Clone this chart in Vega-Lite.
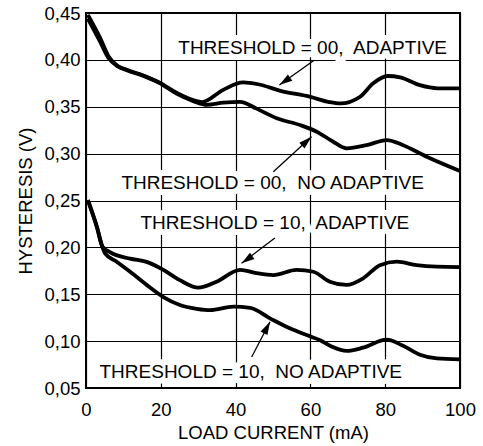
{
  "$schema": "https://vega.github.io/schema/vega-lite/v6.json",
  "width": 374,
  "height": 375,
  "autosize": {"type": "none"},
  "padding": {"left": 86, "top": 13, "right": 23, "bottom": 58},
  "background": "white",
  "config": {
    "view": {"stroke": "#000", "strokeWidth": 2},
    "axis": {
      "labelFont": "Liberation Sans",
      "labelFontSize": 18.5,
      "labelColor": "#000",
      "labelFlush": false,
      "labelOverlap": false,
      "titleFont": "Liberation Sans",
      "titleFontSize": 18.5,
      "titleFontWeight": "normal",
      "titleColor": "#000",
      "grid": true,
      "gridColor": "#000",
      "gridWidth": 1.2,
      "gridOpacity": 1,
      "domain": false,
      "ticks": false
    }
  },
  "datasets": {
    "curves": [
      {"series": "00A", "x": 0.5, "y": 0.448},
      {"series": "00A", "x": 3.7, "y": 0.424},
      {"series": "00A", "x": 6, "y": 0.404},
      {"series": "00A", "x": 8.5, "y": 0.3935},
      {"series": "00A", "x": 10.9, "y": 0.3895},
      {"series": "00A", "x": 16.2, "y": 0.382},
      {"series": "00A", "x": 19.8, "y": 0.3755},
      {"series": "00A", "x": 24.2, "y": 0.365},
      {"series": "00A", "x": 28.7, "y": 0.357},
      {"series": "00A", "x": 31, "y": 0.355},
      {"series": "00A", "x": 36.7, "y": 0.368},
      {"series": "00A", "x": 42, "y": 0.376},
      {"series": "00A", "x": 46, "y": 0.374},
      {"series": "00A", "x": 52, "y": 0.367},
      {"series": "00A", "x": 60, "y": 0.3605},
      {"series": "00A", "x": 65, "y": 0.355},
      {"series": "00A", "x": 68, "y": 0.3535},
      {"series": "00A", "x": 73.3, "y": 0.3607},
      {"series": "00A", "x": 76.8, "y": 0.375},
      {"series": "00A", "x": 80.6, "y": 0.3828},
      {"series": "00A", "x": 84, "y": 0.3814},
      {"series": "00A", "x": 89.3, "y": 0.373},
      {"series": "00A", "x": 94, "y": 0.3697},
      {"series": "00A", "x": 100, "y": 0.3697},
      {"series": "00N", "x": 0.5, "y": 0.444},
      {"series": "00N", "x": 3.7, "y": 0.42},
      {"series": "00N", "x": 6, "y": 0.402},
      {"series": "00N", "x": 8.5, "y": 0.393},
      {"series": "00N", "x": 10.9, "y": 0.389},
      {"series": "00N", "x": 16.2, "y": 0.3815},
      {"series": "00N", "x": 19.8, "y": 0.375},
      {"series": "00N", "x": 24.2, "y": 0.364},
      {"series": "00N", "x": 28.7, "y": 0.356},
      {"series": "00N", "x": 32.3, "y": 0.352},
      {"series": "00N", "x": 36.7, "y": 0.3543},
      {"series": "00N", "x": 41.2, "y": 0.3553},
      {"series": "00N", "x": 45.6, "y": 0.348},
      {"series": "00N", "x": 51, "y": 0.3377},
      {"series": "00N", "x": 57.2, "y": 0.3305},
      {"series": "00N", "x": 61.7, "y": 0.3234},
      {"series": "00N", "x": 66.1, "y": 0.3127},
      {"series": "00N", "x": 69.7, "y": 0.3057},
      {"series": "00N", "x": 75, "y": 0.309},
      {"series": "00N", "x": 80.4, "y": 0.3145},
      {"series": "00N", "x": 84.8, "y": 0.309},
      {"series": "00N", "x": 91.1, "y": 0.2967},
      {"series": "00N", "x": 100, "y": 0.2815},
      {"series": "10A", "x": 0.5, "y": 0.2505},
      {"series": "10A", "x": 2.9, "y": 0.222},
      {"series": "10A", "x": 4.4, "y": 0.201},
      {"series": "10A", "x": 6.4, "y": 0.195},
      {"series": "10A", "x": 11.8, "y": 0.188},
      {"series": "10A", "x": 16.2, "y": 0.1845},
      {"series": "10A", "x": 20.7, "y": 0.176},
      {"series": "10A", "x": 25.1, "y": 0.165},
      {"series": "10A", "x": 30, "y": 0.157},
      {"series": "10A", "x": 34.9, "y": 0.1634},
      {"series": "10A", "x": 41.2, "y": 0.176},
      {"series": "10A", "x": 45.6, "y": 0.1725},
      {"series": "10A", "x": 50.1, "y": 0.1705},
      {"series": "10A", "x": 56.3, "y": 0.176},
      {"series": "10A", "x": 60.8, "y": 0.174},
      {"series": "10A", "x": 65.2, "y": 0.1634},
      {"series": "10A", "x": 69.7, "y": 0.1599},
      {"series": "10A", "x": 74.1, "y": 0.167},
      {"series": "10A", "x": 78.6, "y": 0.181},
      {"series": "10A", "x": 83.1, "y": 0.1847},
      {"series": "10A", "x": 88.4, "y": 0.181},
      {"series": "10A", "x": 93.8, "y": 0.1794},
      {"series": "10A", "x": 100, "y": 0.179},
      {"series": "10N", "x": 0.5, "y": 0.2505},
      {"series": "10N", "x": 2.9, "y": 0.222},
      {"series": "10N", "x": 4.4, "y": 0.2},
      {"series": "10N", "x": 5.1, "y": 0.1936},
      {"series": "10N", "x": 8.2, "y": 0.1847},
      {"series": "10N", "x": 11.8, "y": 0.174},
      {"series": "10N", "x": 16.2, "y": 0.16},
      {"series": "10N", "x": 20.7, "y": 0.147},
      {"series": "10N", "x": 25.1, "y": 0.1385},
      {"series": "10N", "x": 29.6, "y": 0.1345},
      {"series": "10N", "x": 33.2, "y": 0.133},
      {"series": "10N", "x": 39.4, "y": 0.1367},
      {"series": "10N", "x": 43.9, "y": 0.1355},
      {"series": "10N", "x": 49.2, "y": 0.1243},
      {"series": "10N", "x": 54.5, "y": 0.1137},
      {"series": "10N", "x": 60, "y": 0.105},
      {"series": "10N", "x": 62.6, "y": 0.101},
      {"series": "10N", "x": 65.8, "y": 0.094},
      {"series": "10N", "x": 69.7, "y": 0.0895},
      {"series": "10N", "x": 74.1, "y": 0.093},
      {"series": "10N", "x": 80.4, "y": 0.1015},
      {"series": "10N", "x": 84.8, "y": 0.095},
      {"series": "10N", "x": 89.3, "y": 0.0855},
      {"series": "10N", "x": 93.8, "y": 0.0815},
      {"series": "10N", "x": 100, "y": 0.0805}
    ],
    "labels": [
      {"text": "THRESHOLD = 00,\u00a0 ADAPTIVE", "x": 60.6, "y": 0.4123},
      {"text": "THRESHOLD = 00,\u00a0 NO ADAPTIVE", "x": 49.9, "y": 0.2683},
      {"text": "THRESHOLD = 10,\u00a0 ADAPTIVE", "x": 50.5, "y": 0.2263},
      {"text": "THRESHOLD = 10,\u00a0 NO ADAPTIVE", "x": 44.05, "y": 0.0674}
    ],
    "arrows": [
      {"x": 61, "y": 0.3995, "x2": 51.7, "y2": 0.3732, "angle": 235.6},
      {"x": 50.1, "y": 0.2807, "x2": 60.3, "y2": 0.318, "angle": 47.6},
      {"x": 50.5, "y": 0.21, "x2": 41.6, "y2": 0.183, "angle": 235},
      {"x": 44.3, "y": 0.083, "x2": 49.2, "y2": 0.1207, "angle": 27.6}
    ]
  },
  "encoding": {
    "x": {
      "field": "x",
      "type": "quantitative",
      "title": "LOAD CURRENT (mA)",
      "scale": {"domain": [0, 100], "nice": false, "zero": false},
      "axis": {"values": [0, 20, 40, 60, 80, 100], "labelPadding": 12, "titlePadding": 5}
    },
    "y": {
      "field": "y",
      "type": "quantitative",
      "title": "HYSTERESIS (V)",
      "scale": {"domain": [0.05, 0.45], "nice": false, "zero": false},
      "axis": {
        "values": [0.05, 0.1, 0.15, 0.2, 0.25, 0.3, 0.35, 0.4, 0.45],
        "labelExpr": "replace(format(datum.value, '.2f'), '.', ',')",
        "labelPadding": 6,
        "titlePadding": 8
      }
    }
  },
  "layer": [
    {
      "data": {"name": "labels"},
      "mark": {"type": "text", "font": "Liberation Sans", "fontSize": 19, "fill": "white", "stroke": "white", "strokeWidth": 12, "strokeJoin": "round", "baseline": "middle", "align": "center"},
      "encoding": {"text": {"field": "text"}}
    },
    {
      "data": {"name": "curves"},
      "mark": {"type": "line", "interpolate": "monotone", "color": "#000", "strokeWidth": 3.8, "clip": true},
      "encoding": {"detail": {"field": "series"}}
    },
    {
      "data": {"name": "arrows"},
      "mark": {"type": "rule", "color": "#000", "strokeWidth": 1.3},
      "encoding": {"x2": {"field": "x2"}, "y2": {"field": "y2"}}
    },
    {
      "data": {"name": "arrows"},
      "mark": {"type": "point", "shape": "M0,0L-0.6,2L0.6,2Z", "filled": true, "color": "#000", "size": 169, "opacity": 1},
      "encoding": {
        "x": {"field": "x2", "type": "quantitative"},
        "y": {"field": "y2", "type": "quantitative"},
        "angle": {"field": "angle", "type": "quantitative", "scale": null}
      }
    },
    {
      "data": {"name": "labels"},
      "mark": {"type": "text", "font": "Liberation Sans", "fontSize": 19, "fill": "#000", "baseline": "middle", "align": "center"},
      "encoding": {"text": {"field": "text"}}
    }
  ]
}
